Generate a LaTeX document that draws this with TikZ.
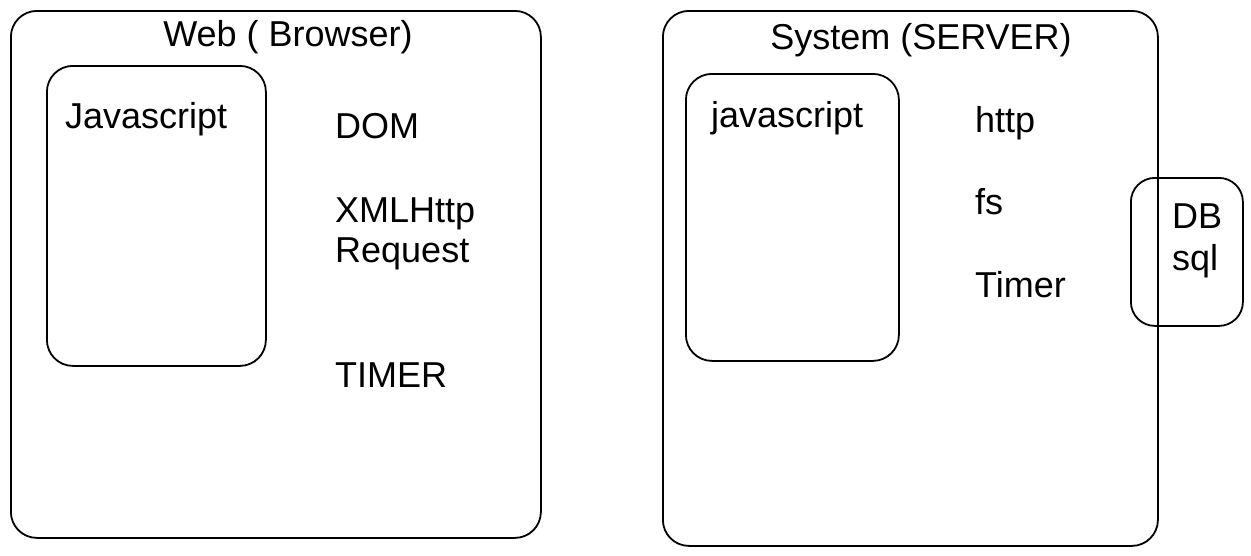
\documentclass[tikz,border=0pt]{standalone}
\usepackage{fontspec}
\setmainfont{Liberation Sans}
\usetikzlibrary{positioning}

\begin{document}
\begin{tikzpicture}[
    x=1pt, y=-1pt,
    node distance=0pt and 0pt,
    box/.style={
        draw,
        rounded corners=26pt,
        line width=1.8pt,
        anchor=north west,
        inner sep=0pt
    },
    lbl/.style={
        anchor=base west,
        inner sep=0pt,
        font=\fontsize{36}{42}\selectfont
    }
]
\useasboundingbox (0,0) rectangle (1251,555);

% browser side
\node[box, minimum width=530pt, minimum height=527pt] (web) at (10,10) {};
\node[lbl, anchor=base] (webtitle) at (288,46) {Web ( Browser)};
\node[box, minimum width=219pt, minimum height=300pt] (webjs) at (46,65) {};
\node[lbl] (webjstext) at (65,128) {Javascript};
\node[lbl] (dom) at (335,138) {DOM};
\node[lbl] (xhr) at (335,222) {XMLHttp};
\node[lbl] (xhr2) at (335,262) {Request};
\node[lbl] (webtimer) at (335,387) {TIMER};

% server side
\node[box, minimum width=495pt, minimum height=535pt] (sys) at (662,10) {};
\node[lbl, anchor=base] (systitle) at (921,49) {System (SERVER)};
\node[box, minimum width=213pt, minimum height=287pt] (sysjs) at (685,73) {};
\node[lbl] (sysjstext) at (711,127) {javascript};
\node[lbl] (http) at (975,132) {http};
\node[lbl] (fs) at (975,214) {fs};
\node[lbl] (systimer) at (975,297) {Timer};

% database
\node[box, rounded corners=24pt, minimum width=112pt, minimum height=148pt] (db) at (1130,177) {};
\node[lbl] (dbtext) at (1172,228) {DB};
\node[lbl] (sql) at (1172,270) {sql};
\end{tikzpicture}
\end{document}
